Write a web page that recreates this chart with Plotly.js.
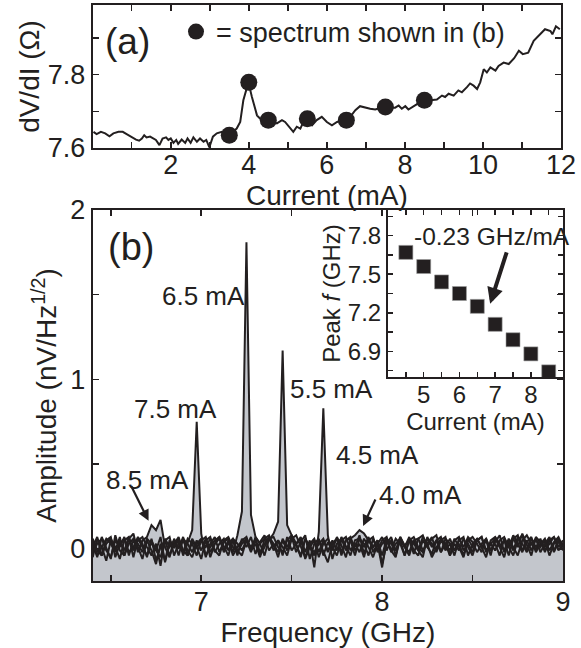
<!DOCTYPE html>
<html>
<head>
<meta charset="utf-8">
<script src="https://cdn.plot.ly/plotly-3.0.1.min.js"></script>
<style>
  html, body { margin: 0; padding: 0; background: #ffffff; }
  #chart { width: 581px; height: 648px; }
</style>
</head>
<body>
<div id="chart"></div>
<script>
// ---------------- DATA ----------------
// Panel (a): differential resistance vs current
const DVDI_CURRENT = [0.02,0.10,0.21,0.32,0.43,0.53,0.66,0.77,0.87,1.0,1.11,1.19,1.26,1.32,1.38,1.47,1.55,1.62,1.71,1.79,1.88,1.94,2.0,2.07,2.14,2.19,2.28,2.37,2.43,2.51,2.58,2.67,2.75,2.84,2.91,2.99,3.08,3.18,3.31,3.49,3.69,3.78,3.86,3.99,4.08,4.21,4.33,4.5,4.72,4.85,4.93,5.04,5.14,5.23,5.32,5.44,5.62,5.74,5.87,6.0,6.13,6.26,6.47,6.60,6.73,6.85,6.98,7.11,7.24,7.45,7.62,7.75,7.84,7.92,8.01,8.09,8.26,8.48,8.65,8.82,8.95,9.03,9.12,9.25,9.37,9.46,9.59,9.67,9.76,9.85,9.93,10.02,10.10,10.19,10.32,10.40,10.53,10.66,10.80,10.92,11.02,11.16,11.30,11.45,11.59,11.73,11.78,11.87,11.97];
const DVDI_OHM = [7.644,7.638,7.644,7.640,7.632,7.640,7.644,7.644,7.638,7.629,7.623,7.620,7.626,7.635,7.629,7.631,7.626,7.622,7.608,7.626,7.629,7.622,7.626,7.614,7.622,7.611,7.623,7.614,7.626,7.614,7.629,7.617,7.626,7.617,7.622,7.602,7.631,7.640,7.644,7.635,7.653,7.671,7.730,7.779,7.739,7.689,7.676,7.676,7.667,7.676,7.671,7.658,7.644,7.658,7.653,7.680,7.662,7.676,7.685,7.671,7.662,7.671,7.676,7.685,7.703,7.714,7.710,7.707,7.705,7.712,7.710,7.710,7.716,7.707,7.714,7.705,7.716,7.730,7.730,7.732,7.743,7.739,7.748,7.743,7.757,7.752,7.766,7.776,7.770,7.761,7.779,7.815,7.806,7.820,7.811,7.824,7.833,7.829,7.845,7.865,7.856,7.860,7.892,7.910,7.924,7.919,7.910,7.932,7.924];
// Marked points (currents at which spectra are shown)
const MARK_CURRENT = [3.5, 4.0, 4.5, 5.5, 6.5, 7.5, 8.5];
const MARK_OHM = [7.635, 7.779, 7.676, 7.680, 7.676, 7.712, 7.730];

// Panel (b): spectra on a common frequency grid (GHz)
const FREQ = [6.4,6.425,6.45,6.475,6.5,6.525,6.55,6.575,6.6,6.625,6.65,6.675,6.7,6.725,6.75,6.775,6.8,6.825,6.85,6.875,6.9,6.925,6.95,6.975,7.0,7.025,7.05,7.075,7.1,7.125,7.15,7.175,7.2,7.225,7.25,7.275,7.3,7.325,7.35,7.375,7.4,7.425,7.45,7.475,7.5,7.525,7.55,7.575,7.6,7.625,7.65,7.675,7.7,7.725,7.75,7.775,7.8,7.825,7.85,7.875,7.9,7.925,7.95,7.975,8.0,8.025,8.05,8.075,8.1,8.125,8.15,8.175,8.2,8.225,8.25,8.275,8.3,8.325,8.35,8.375,8.4,8.425,8.45,8.475,8.5,8.525,8.55,8.575,8.6,8.625,8.65,8.675,8.7,8.725,8.75,8.775,8.8,8.825,8.85,8.875,8.9,8.925,8.95,8.975,9.0];
const AMP_85 = [0.03,-0.05,0.07,0.01,-0.06,0.08,-0.01,-0.04,0.06,0.09,
  -0.02,0.05,0.07,0.14,0.11,0.17,0.01,-0.05,0.06,0.00,
  0.07,-0.04,0.04,0.01,-0.06,0.05,0.07,-0.02,0.03,0.06,
  -0.01,0.05,-0.04,0.06,0.01,0.07,-0.03,0.04,0.08,-0.01,
  0.03,-0.05,0.06,0.01,0.07,-0.02,0.04,0.08,-0.06,0.03,
  0.06,-0.04,0.04,-0.01,0.07,0.02,-0.05,0.06,0.01,0.08,
  -0.03,0.05,0.07,-0.02,0.03,0.06,-0.01,-0.05,0.07,0.02,
  0.05,-0.03,0.06,0.08,0.01,-0.03,0.05,0.07,-0.01,0.03,
  -0.04,0.06,0.01,0.07,0.04,-0.02,0.03,0.06,-0.01,0.04,
  0.08,-0.02,0.03,0.06,0.01,0.09,0.02,-0.04,0.07,0.04,
  0.01,0.06,-0.02,0.04,0.03];
const AMP_75 = [-0.05,0.06,0.01,-0.07,0.05,-0.01,0.07,-0.04,0.03,0.06,
  0.01,-0.06,0.05,-0.01,-0.09,0.03,-0.07,0.05,0.01,0.06,
  -0.04,0.04,0.11,0.75,0.09,-0.05,0.03,0.07,-0.02,0.04,
  0.06,-0.04,0.01,0.05,0.07,-0.01,0.03,-0.05,0.06,0.08,
  0.01,0.05,-0.04,0.07,-0.01,0.03,0.06,-0.06,0.01,0.05,
  -0.05,0.03,0.06,0.01,-0.04,0.05,0.07,-0.01,0.03,-0.02,
  0.06,0.01,-0.05,0.03,0.07,-0.01,0.05,-0.04,0.06,0.01,
  -0.02,0.05,-0.01,0.07,0.03,-0.05,0.01,0.06,0.03,-0.04,
  0.05,0.07,-0.01,0.03,-0.02,0.06,0.01,-0.05,0.05,0.07,
  0.01,0.05,-0.04,0.06,0.08,-0.01,0.04,0.07,-0.02,0.03,
  0.06,-0.01,0.04,0.07,0.01];
const AMP_65 = [0.06,-0.01,-0.04,0.05,0.07,-0.05,0.03,0.06,-0.02,0.01,
  0.07,0.03,-0.05,0.06,-0.07,0.01,0.05,-0.04,0.03,0.07,
  -0.01,-0.04,0.06,0.01,0.05,0.07,-0.02,0.03,0.06,-0.01,
  0.05,-0.02,0.08,0.22,1.81,0.20,0.07,0.03,-0.04,0.06,
  0.07,0.01,-0.02,0.05,0.08,0.03,-0.05,0.06,0.01,-0.04,
  0.05,-0.01,-0.08,0.03,0.06,-0.02,0.05,0.07,-0.01,0.03,
  -0.05,0.06,0.01,0.05,-0.09,0.03,0.07,-0.01,0.05,-0.04,
  0.06,0.03,-0.01,-0.05,0.07,0.01,0.05,-0.02,0.06,0.03,
  -0.01,0.05,0.07,-0.04,0.03,0.06,0.01,0.05,-0.04,0.07,
  0.03,-0.01,0.06,0.01,-0.04,0.05,0.08,0.03,-0.01,0.06,
  -0.02,0.05,0.07,-0.01,0.03];
const AMP_55 = [0.01,0.07,-0.04,0.03,0.06,0.01,-0.06,0.05,0.07,-0.01,
  0.05,0.07,0.01,-0.04,0.03,-0.10,0.06,0.01,0.05,-0.04,
  0.06,0.03,-0.02,0.05,-0.01,0.06,-0.05,0.03,0.07,0.01,
  -0.04,0.06,0.03,-0.01,0.05,-0.02,0.07,0.03,0.06,0.05,
  0.09,0.16,1.17,0.14,0.08,0.03,-0.04,0.06,0.01,-0.02,
  0.03,0.06,-0.02,0.05,-0.01,0.07,0.01,-0.04,0.05,0.06,
  0.03,-0.04,0.06,-0.01,0.05,0.07,-0.02,0.03,0.06,0.01,
  0.07,-0.01,-0.04,0.05,0.01,0.06,0.08,-0.02,0.03,-0.01,
  0.06,0.01,-0.05,0.05,0.07,0.03,-0.02,0.06,-0.01,0.03,
  -0.04,0.06,0.01,0.08,0.03,-0.02,0.05,-0.01,0.06,0.01,
  0.05,-0.04,0.03,0.06,-0.01];
const AMP_45 = [-0.02,0.03,0.06,-0.01,-0.05,0.05,0.01,0.07,-0.04,0.05,
  0.03,-0.02,0.06,0.03,-0.01,-0.05,0.05,0.07,-0.04,0.03,
  0.05,-0.01,-0.05,0.03,0.06,-0.04,0.01,0.05,0.07,-0.02,
  0.03,0.06,-0.01,-0.04,0.05,0.01,0.06,-0.02,0.03,0.07,
  -0.01,0.05,0.01,-0.04,0.06,0.03,0.07,-0.02,0.05,-0.11,
  0.10,0.83,0.08,-0.06,0.03,0.06,-0.01,0.05,-0.04,0.06,
  0.01,0.07,-0.02,0.03,-0.11,0.05,-0.01,0.06,0.03,-0.04,
  0.05,0.07,0.01,-0.02,0.06,0.03,-0.01,0.05,0.07,-0.04,
  0.03,-0.01,0.06,0.01,-0.04,0.05,0.07,-0.01,0.03,0.06,
  0.01,-0.05,0.05,-0.01,0.07,0.03,-0.02,0.06,0.01,0.05,
  -0.01,0.03,0.07,0.01,0.05];
const AMP_40 = [0.05,-0.04,0.01,0.06,0.03,-0.02,0.05,-0.01,0.07,-0.05,
  0.06,0.01,-0.04,0.05,-0.01,0.07,-0.08,0.03,0.01,0.05,
  -0.02,0.06,0.03,-0.04,0.05,0.01,0.06,-0.01,-0.04,0.05,
  0.07,0.01,-0.02,0.03,0.06,-0.01,0.05,-0.04,0.01,0.07,
  0.03,-0.02,0.05,-0.01,0.06,0.08,0.01,-0.05,0.03,0.06,
  -0.02,0.05,-0.01,0.03,0.06,-0.04,0.05,0.06,0.08,0.11,
  0.09,0.05,0.01,0.05,-0.04,0.06,0.03,-0.01,0.07,0.01,
  -0.04,0.05,0.06,-0.01,0.03,0.07,-0.02,0.05,0.01,0.06,
  -0.01,0.03,-0.04,0.06,0.01,0.05,0.07,-0.02,0.03,-0.01,
  0.05,0.07,0.01,-0.04,0.05,0.08,-0.01,0.03,0.06,-0.02,
  0.03,0.07,-0.01,0.05,0.01];
const SPECTRA = [AMP_85, AMP_75, AMP_65, AMP_55, AMP_45, AMP_40];

// Inset: peak frequency vs current
const INSET_CURRENT = [4.5, 5.0, 5.5, 6.0, 6.5, 7.0, 7.5, 8.0, 8.5];
const PEAK_FREQ = [7.67, 7.56, 7.44, 7.35, 7.25, 7.11, 6.99, 6.88, 6.74];

// Tick values / labels
const A_XTICKS = [1,2,3,4,5,6,7,8,9,10,11,12];
const A_XLABELS = ['','2','','4','','6','','8','','10','','12'];
const A_YTICKS = [7.6,7.7,7.8,7.9];
const A_YLABELS = ['7.6','','7.8',''];
const B_XTICKS = [6.5,7,7.5,8,8.5,9];
const B_XLABELS = ['','7','','8','','9'];
const B_YTICKS = [0,0.5,1,1.5,2];
const B_YLABELS = ['0','','1','','2'];
const I_XTICKS = [4.5,5,5.5,6,6.5,7,7.5,8,8.5];
const I_XLABELS = ['','5','','6','','7','','8',''];
const I_YTICKS = [6.75,6.9,7.05,7.2,7.35,7.5,7.65,7.8,7.95];
const I_YLABELS = ['','6.9','','7.2','','7.5','','7.8',''];

// ---------------- STYLE ----------------
const W = 581, H = 648;
const INK = '#231f20';
const FILL = '#c3c6cc';
const FONT = 'Liberation Sans, Arial, Helvetica, sans-serif';
const px = v => v / W;
const py = v => 1 - v / H;

const A_XRANGE = [0, 12], A_YRANGE = [7.6, 7.99];
const B_XRANGE = [6.4, 9.0], B_YRANGE = [-0.19, 2.0];
const I_XRANGE = [4.0, 8.9], I_YRANGE = [6.7, 8.0];

const traces = [];
// panel (a)
traces.push({x: DVDI_CURRENT, y: DVDI_OHM, xaxis: 'x', yaxis: 'y', mode: 'lines',
  line: {color: INK, width: 2}, showlegend: false, hoverinfo: 'skip'});
traces.push({x: MARK_CURRENT, y: MARK_OHM, xaxis: 'x', yaxis: 'y', mode: 'markers',
  name: '= spectrum shown in (b)',
  marker: {color: INK, size: 17, symbol: 'circle'}, showlegend: true});

// panel (b): gray fills from each spectrum down to the bottom of the axis
SPECTRA.forEach(s => {
  traces.push({
    x: FREQ.concat([FREQ[FREQ.length - 1], FREQ[0]]),
    y: s.concat([B_YRANGE[0], B_YRANGE[0]]),
    xaxis: 'x2', yaxis: 'y2', mode: 'lines', fill: 'toself',
    fillcolor: FILL, line: {width: 0, color: FILL}, showlegend: false, hoverinfo: 'skip'
  });
});
SPECTRA.forEach(s => {
  traces.push({x: FREQ, y: s, xaxis: 'x2', yaxis: 'y2', mode: 'lines',
    line: {color: INK, width: 2}, showlegend: false});
});
// inset
traces.push({x: INSET_CURRENT, y: PEAK_FREQ, xaxis: 'x3', yaxis: 'y3', mode: 'markers',
  marker: {symbol: 'square', size: 14, color: INK, line: {color: '#9a9a9a', width: 0.6}},
  showlegend: false});

const tickFont = {family: FONT, size: 27, color: INK};
const titleFont = {family: FONT, size: 28, color: INK};
const insetFont = {family: FONT, size: 24, color: INK};

function axis(extra) {
  return Object.assign({
    showgrid: false, zeroline: false, showline: true, linecolor: INK, linewidth: 2,
    mirror: 'ticks', ticks: 'inside', ticklen: 6, tickwidth: 1.5, tickcolor: INK,
    tickmode: 'array', tickfont: tickFont, fixedrange: true
  }, extra);
}

const layout = {
  width: W, height: H,
  margin: {l: 0, r: 0, t: 0, b: 0},
  paper_bgcolor: '#ffffff', plot_bgcolor: 'rgba(0,0,0,0)',
  font: {family: FONT, color: INK},
  showlegend: true,
  legend: {x: px(176), xanchor: 'left', y: py(32), yanchor: 'middle',
    font: {family: FONT, size: 27, color: INK}, bgcolor: 'rgba(0,0,0,0)', borderwidth: 0},
  xaxis: axis({domain: [px(92.7), px(561)], range: A_XRANGE, anchor: 'y',
    tickvals: A_XTICKS, ticktext: A_XLABELS, ticklabelstandoff: -8,
    title: {text: 'Current (mA)', font: titleFont, standoff: 0}}),
  yaxis: axis({domain: [py(148), py(5)], range: A_YRANGE, anchor: 'x',
    tickvals: A_YTICKS, ticktext: A_YLABELS,
    title: {text: 'dV/dI (Ω)', font: titleFont, standoff: 0}}),
  xaxis2: axis({domain: [px(92.7), px(563)], range: B_XRANGE, anchor: 'y2',
    tickvals: B_XTICKS, ticktext: B_XLABELS, ticklabelstandoff: -4,
    title: {text: 'Frequency (GHz)', font: titleFont, standoff: 0}}),
  yaxis2: axis({domain: [py(581), py(210)], range: B_YRANGE, anchor: 'x2',
    tickvals: B_YTICKS, ticktext: B_YLABELS,
    title: {text: 'Amplitude (nV/Hz<sup>1/2</sup>)', font: titleFont, standoff: 5}}),
  xaxis3: axis({domain: [px(388), px(563)], range: I_XRANGE, anchor: 'y3',
    tickvals: I_XTICKS, ticktext: I_XLABELS, ticklen: 5, tickfont: insetFont,
    ticklabelstandoff: -5,
    title: {text: 'Current (mA)', font: insetFont, standoff: 0}}),
  yaxis3: axis({domain: [py(377), py(210)], range: I_YRANGE, anchor: 'x3',
    tickvals: I_YTICKS, ticktext: I_YLABELS, ticklen: 5, tickfont: insetFont,
    title: {text: 'Peak <i>f</i> (GHz)', font: insetFont, standoff: 0}}),
  annotations: [
    {xref: 'paper', yref: 'paper', x: px(103), y: py(42), xanchor: 'left', yanchor: 'middle',
      text: '(a)', showarrow: false, font: {family: FONT, size: 37, color: INK}},
    {xref: 'paper', yref: 'paper', x: px(106), y: py(247), xanchor: 'left', yanchor: 'middle',
      text: '(b)', showarrow: false, font: {family: FONT, size: 38, color: INK}},
    {xref: 'paper', yref: 'paper', x: px(160), y: py(296), xanchor: 'left', yanchor: 'middle',
      text: '6.5 mA', showarrow: false, font: {family: FONT, size: 26, color: INK}},
    {xref: 'paper', yref: 'paper', x: px(132), y: py(409), xanchor: 'left', yanchor: 'middle',
      text: '7.5 mA', showarrow: false, font: {family: FONT, size: 26, color: INK}},
    {xref: 'paper', yref: 'paper', x: px(288), y: py(389), xanchor: 'left', yanchor: 'middle',
      text: '5.5 mA', showarrow: false, font: {family: FONT, size: 26, color: INK}},
    {xref: 'paper', yref: 'paper', x: px(334), y: py(455), xanchor: 'left', yanchor: 'middle',
      text: '4.5 mA', showarrow: false, font: {family: FONT, size: 26, color: INK}},
    {xref: 'paper', yref: 'paper', x: px(377), y: py(495), xanchor: 'left', yanchor: 'middle',
      text: '4.0 mA', showarrow: false, font: {family: FONT, size: 26, color: INK}},
    {xref: 'paper', yref: 'paper', x: px(104), y: py(480), xanchor: 'left', yanchor: 'middle',
      text: '8.5 mA', showarrow: false, font: {family: FONT, size: 26, color: INK}},
    {xref: 'paper', yref: 'paper', x: px(412), y: py(237), xanchor: 'left', yanchor: 'middle',
      text: '-0.23 GHz/mA', showarrow: false, font: {family: FONT, size: 24.5, color: INK}},
    // arrows
    {xref: 'x2', yref: 'y2', x: 6.709, y: 0.165, ax: -18, ay: -36, text: '', showarrow: true,
      arrowhead: 2, arrowsize: 1, arrowwidth: 2.2, arrowcolor: INK},
    {xref: 'x2', yref: 'y2', x: 7.895, y: 0.135, ax: 13, ay: -28, text: '', showarrow: true,
      arrowhead: 2, arrowsize: 1, arrowwidth: 2.2, arrowcolor: INK},
    {xref: 'x3', yref: 'y3', x: 6.86, y: 7.27, ax: 17, ay: -53, text: '', showarrow: true,
      arrowhead: 2, arrowsize: 0.8, arrowwidth: 4, arrowcolor: INK}
  ]
};

Plotly.newPlot('chart', traces, layout, {displayModeBar: false, staticPlot: true});
</script>
</body>
</html>
